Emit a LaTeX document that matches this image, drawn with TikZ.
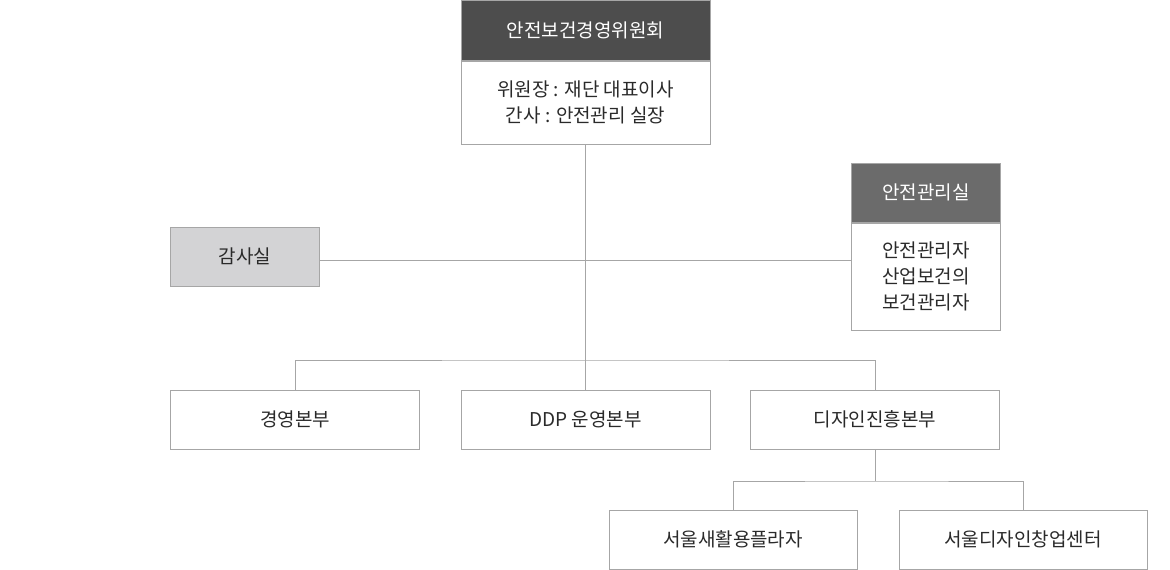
\documentclass[tikz,border=0pt]{standalone}
\usepackage{fontspec}
\setmainfont{Noto Sans CJK KR}
\usepackage{tikz}
\usetikzlibrary{positioning, calc}

\definecolor{headdark}{HTML}{4D4D4D}
\definecolor{headmid}{HTML}{6B6B6B}
\definecolor{boxgray}{HTML}{D3D3D5}
\definecolor{edgegray}{HTML}{A6A6A6}
\definecolor{txtgray}{HTML}{2A2A2A}

\begin{document}
\begin{tikzpicture}[
  x=1pt, y=-1pt,
  every node/.style={font=\fontsize{19}{26}\selectfont, text=txtgray, align=center, inner sep=0pt},
  unitbox/.style={draw=edgegray, line width=1pt, fill=white, minimum width=249pt, minimum height=59pt},
  smallbox/.style={unitbox, minimum width=149pt},
  headbox/.style={draw=edgegray, line width=1pt, fill=headdark, text=white},
  link/.style={draw=edgegray, line width=1pt}
]
  \useasboundingbox (0,0) rectangle (1170,570);

  % committee at the top
  \node[headbox, minimum width=249pt, minimum height=60pt] (council) at (585.5,30) {안전보건경영위원회};
  \node[unitbox, minimum height=83pt, below=0pt of council] (councilbody) {위원장 : 재단 대표이사\\간사 : 안전관리 실장};

  % side offices
  \node[smallbox, fill=boxgray] (audit) at (245,256.5) {감사실};
  \node[headbox, fill=headmid, minimum width=149pt, minimum height=59pt] (safety) at (926,192.5) {안전관리실};
  \node[smallbox, minimum height=107pt, below=0pt of safety] (safetybody) {안전관리자\\산업보건의\\보건관리자};

  % divisions
  \node[unitbox] (mgmt) at (295,419.5) {경영본부};
  \node[unitbox] (ddp) at (585.5,419.5) {DDP 운영본부};
  \node[unitbox] (design) at (875,419.5) {디자인진흥본부};

  % centres under the design division
  \node[unitbox, minimum width=248pt] (plaza) at (733,539.5) {서울새활용플라자};
  \node[unitbox, minimum width=248pt] (startup) at (1023,539.5) {서울디자인창업센터};

  \coordinate (hub) at (585.5,360);
  \coordinate (subhub) at (875,481);
  \coordinate (auditout) at ($(audit.east)+(0,3.5)$);

  \draw[link] (councilbody.south) -- (ddp.north);
  \draw[link] (auditout) -- (auditout -| safetybody.west);
  \draw[link] (mgmt.north) |- (hub) -| (design.north);
  \draw[link] (design.south) -- (subhub);
  \draw[link] (plaza.north) |- (subhub) -| (startup.north);
\end{tikzpicture}
\end{document}
